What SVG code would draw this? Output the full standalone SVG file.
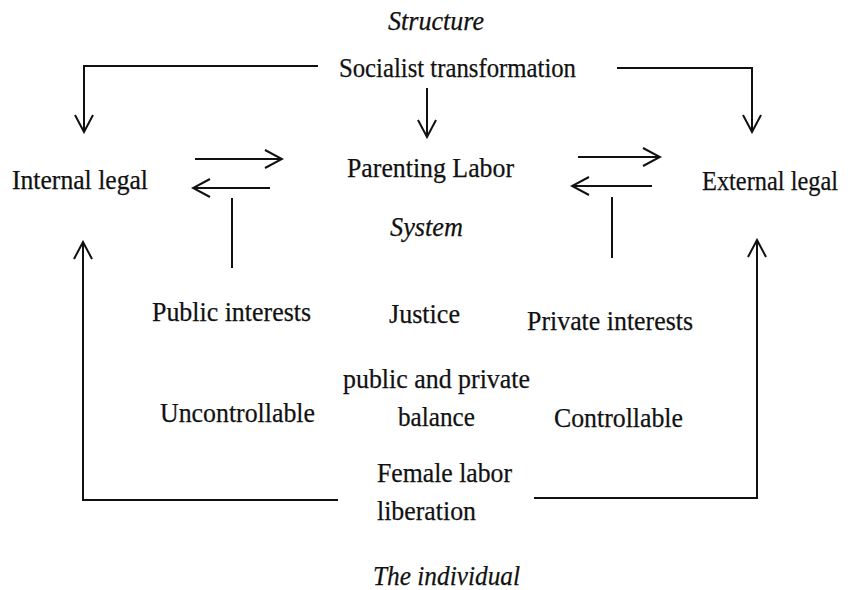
<svg xmlns="http://www.w3.org/2000/svg" width="851" height="590" viewBox="0 0 851 590">
<style>
text{font-family:'Liberation Serif',Tinos,'Times New Roman',Times,serif;font-size:28px;fill:#111;stroke:#111;stroke-width:0.25}
.it{font-style:italic}
.ln{fill:none;stroke:#111;stroke-width:2}
</style>
<defs>
<marker id="ah" viewBox="0 0 20 20" refX="18" refY="10" markerWidth="20" markerHeight="20" markerUnits="userSpaceOnUse" orient="auto">
<path d="M1,1 L18,10 L1,19" fill="none" stroke="#111" stroke-width="2"/>
</marker>
</defs>
<rect width="851" height="590" fill="#fff"/>
<g id="connectors">
<path class="ln" d="M318,66 H84 V132" marker-end="url(#ah)"/>
<path class="ln" d="M427,88 V137" marker-end="url(#ah)"/>
<path class="ln" d="M617,68 H752 V132" marker-end="url(#ah)"/>
<path class="ln" d="M195,159 H282" marker-end="url(#ah)"/>
<path class="ln" d="M270,188 H193" marker-end="url(#ah)"/>
<path class="ln" d="M578,157 H660" marker-end="url(#ah)"/>
<path class="ln" d="M652,186 H572" marker-end="url(#ah)"/>
<path class="ln" d="M232,198 V268"/>
<path class="ln" d="M612,197 V258"/>
<path class="ln" d="M338,500 H83 V242" marker-end="url(#ah)"/>
<path class="ln" d="M534,498 H757 V240" marker-end="url(#ah)"/>
</g>
<g id="structure"><text class="it" x="388" y="30" textLength="96" lengthAdjust="spacingAndGlyphs">Structure</text></g>
<g id="socialist"><text x="339" y="77" textLength="237" lengthAdjust="spacingAndGlyphs">Socialist transformation</text></g>
<g id="internal"><text x="12" y="189" textLength="136" lengthAdjust="spacingAndGlyphs">Internal legal</text></g>
<g id="parenting"><text x="347" y="177" textLength="167" lengthAdjust="spacingAndGlyphs">Parenting Labor</text></g>
<g id="external"><text x="702" y="190" font-size="26" textLength="136" lengthAdjust="spacingAndGlyphs">External legal</text></g>
<g id="system"><text class="it" x="390" y="236" textLength="73" lengthAdjust="spacingAndGlyphs">System</text></g>
<g id="public"><text x="152" y="321" textLength="159" lengthAdjust="spacingAndGlyphs">Public interests</text></g>
<g id="justice"><text x="389" y="323" textLength="71" lengthAdjust="spacingAndGlyphs">Justice</text></g>
<g id="private"><text x="527" y="330" textLength="166" lengthAdjust="spacingAndGlyphs">Private interests</text></g>
<g id="balance"><text x="343" y="388" textLength="187" lengthAdjust="spacingAndGlyphs">public and private</text><text x="398" y="426" textLength="77" lengthAdjust="spacingAndGlyphs">balance</text></g>
<g id="uncontrollable"><text x="160" y="422" textLength="155" lengthAdjust="spacingAndGlyphs">Uncontrollable</text></g>
<g id="controllable"><text x="554" y="427" textLength="129" lengthAdjust="spacingAndGlyphs">Controllable</text></g>
<g id="female"><text x="377" y="482" textLength="135" lengthAdjust="spacingAndGlyphs">Female labor</text><text x="377" y="520" textLength="99" lengthAdjust="spacingAndGlyphs">liberation</text></g>
<g id="individual"><text class="it" x="373" y="585" textLength="147" lengthAdjust="spacingAndGlyphs">The individual</text></g>
</svg>
